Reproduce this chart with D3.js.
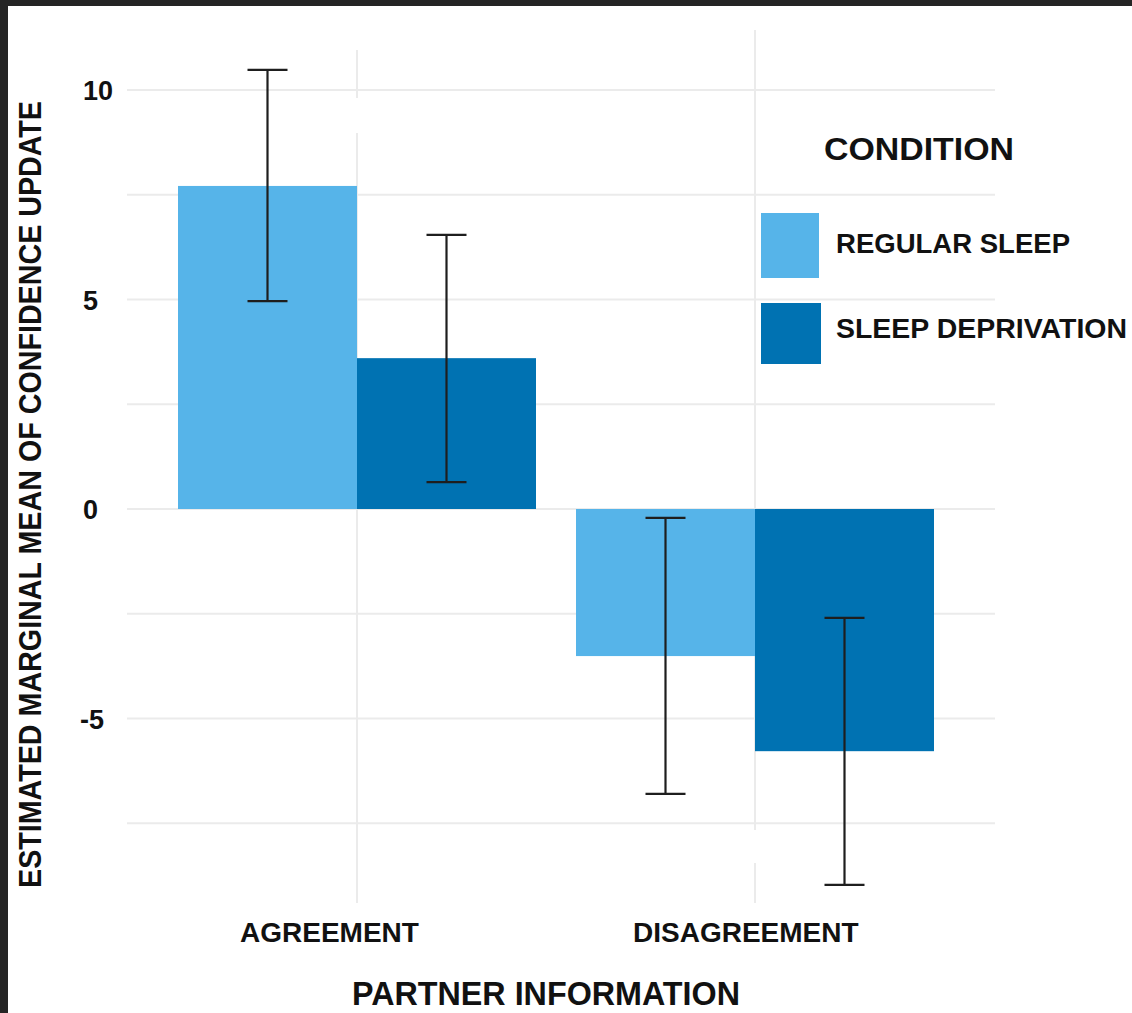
<!DOCTYPE html>
<html>
<head>
<meta charset="utf-8">
<script src="https://cdn.jsdelivr.net/npm/d3@7"></script>
<style>
  html, body { margin: 0; padding: 0; background: #ffffff; }
  svg { display: block; }
  text { font-family: "Liberation Sans", Arial, sans-serif; font-weight: bold; fill: #111; }
</style>
</head>
<body>
<svg id="chart" width="1132" height="1013"></svg>
<script>
// ---- data ----
const categories = ["AGREEMENT", "DISAGREEMENT"];
const seriesNames = ["REGULAR SLEEP", "SLEEP DEPRIVATION"];
const regularMean = [7.71, -3.51];
const deprivationMean = [3.60, -5.78];
const regularLow = [4.96, -6.80];
const regularHigh = [10.48, -0.21];
const deprivationLow = [0.64, -8.97];
const deprivationHigh = [6.54, -2.60];
const yTickValues = [-5, 0, 5, 10];
const gridValues = [-7.5, -5, -2.5, 0, 2.5, 5, 7.5, 10];
const seriesColors = ["#56B4E9", "#0072B2"];

const rows = [];
categories.forEach((c, i) => {
  rows.push({cat: c, series: seriesNames[0], mean: regularMean[i], lo: regularLow[i], hi: regularHigh[i]});
  rows.push({cat: c, series: seriesNames[1], mean: deprivationMean[i], lo: deprivationLow[i], hi: deprivationHigh[i]});
});

const svg = d3.select("#chart");

// scales
const x = d3.scalePoint().domain(categories).range([357, 755]);
const xSub = d3.scaleBand().domain(seriesNames).range([-179, 179]).padding(0);
const y = d3.scaleLinear().domain([-10, 10]).range([928, 90]);
const color = d3.scaleOrdinal().domain(seriesNames).range(seriesColors);

const gridColor = "#ebebeb";

// horizontal gridlines
svg.append("g").selectAll("line").data(gridValues).join("line")
  .attr("x1", 127).attr("x2", 995)
  .attr("y1", d => y(d)).attr("y2", d => y(d))
  .attr("stroke", gridColor).attr("stroke-width", 2);

// vertical gridlines (with the gaps seen in the reference)
const vSegments = [
  {cat: categories[0], y1: 50, y2: 98},
  {cat: categories[0], y1: 133, y2: 903},
  {cat: categories[1], y1: 30, y2: 830},
  {cat: categories[1], y1: 863, y2: 903}
];
svg.append("g").selectAll("line").data(vSegments).join("line")
  .attr("x1", d => x(d.cat)).attr("x2", d => x(d.cat))
  .attr("y1", d => d.y1).attr("y2", d => d.y2)
  .attr("stroke", gridColor).attr("stroke-width", 2);

// bars
svg.append("g").selectAll("rect").data(rows).join("rect")
  .attr("x", d => x(d.cat) + xSub(d.series))
  .attr("width", xSub.bandwidth())
  .attr("y", d => y(Math.max(0, d.mean)))
  .attr("height", d => Math.abs(y(d.mean) - y(0)))
  .attr("fill", d => color(d.series));

// error bars
const eb = svg.append("g").attr("stroke", "#1e1e1e").attr("stroke-width", 2.2);
const capHalf = 20;
rows.forEach(d => {
  const cx = x(d.cat) + xSub(d.series) + xSub.bandwidth() / 2;
  eb.append("line").attr("x1", cx).attr("x2", cx).attr("y1", y(d.hi)).attr("y2", y(d.lo));
  eb.append("line").attr("x1", cx - capHalf).attr("x2", cx + capHalf).attr("y1", y(d.hi)).attr("y2", y(d.hi));
  eb.append("line").attr("x1", cx - capHalf).attr("x2", cx + capHalf).attr("y1", y(d.lo)).attr("y2", y(d.lo));
});

// y tick labels
svg.append("g").selectAll("text").data(yTickValues).join("text")
  .attr("x", d => d < 0 ? 80 : 83)
  .attr("y", d => y(d) + 10)
  .attr("font-size", 27)
  .attr("text-anchor", "start")
  .text(d => d3.format("d")(d).replace("−", "-"));

// x tick labels
svg.append("g").selectAll("text").data(categories).join("text")
  .attr("x", (d, i) => x(d) - (i === 0 ? 117 : 122))
  .attr("y", 942)
  .attr("font-size", 28)
  .attr("text-anchor", "start")
  .text(d => d);

// axis titles
svg.append("text")
  .attr("x", 352).attr("y", 1005)
  .attr("font-size", 32.5)
  .attr("textLength", 388).attr("lengthAdjust", "spacingAndGlyphs")
  .text("PARTNER INFORMATION");

svg.append("text")
  .attr("transform", "translate(41,888) rotate(-90)")
  .attr("x", 0).attr("y", 0)
  .attr("font-size", 31.5)
  .attr("textLength", 787).attr("lengthAdjust", "spacingAndGlyphs")
  .text("ESTIMATED MARGINAL MEAN OF CONFIDENCE UPDATE");

// legend
const legend = svg.append("g");
legend.append("text")
  .attr("x", 824).attr("y", 160)
  .attr("font-size", 32)
  .attr("textLength", 190).attr("lengthAdjust", "spacingAndGlyphs")
  .text("CONDITION");
const keyBoxes = [
  {x: 761, y: 213, w: 58, h: 65, labelY: 253, len: 234},
  {x: 761, y: 303, w: 60, h: 61, labelY: 338, len: 291}
];
seriesNames.forEach((s, i) => {
  const k = keyBoxes[i];
  legend.append("rect").attr("x", k.x).attr("y", k.y).attr("width", k.w).attr("height", k.h)
    .attr("fill", color(s));
  legend.append("text").attr("x", 836).attr("y", k.labelY)
    .attr("font-size", 27.5)
    .attr("textLength", k.len).attr("lengthAdjust", "spacingAndGlyphs")
    .text(s);
});

// dark frame edges from the screenshot
svg.append("rect").attr("x", 0).attr("y", 0).attr("width", 1132).attr("height", 6).attr("fill", "#252525");
svg.append("rect").attr("x", 0).attr("y", 0).attr("width", 8).attr("height", 1013).attr("fill", "#252525");
</script>
</body>
</html>
